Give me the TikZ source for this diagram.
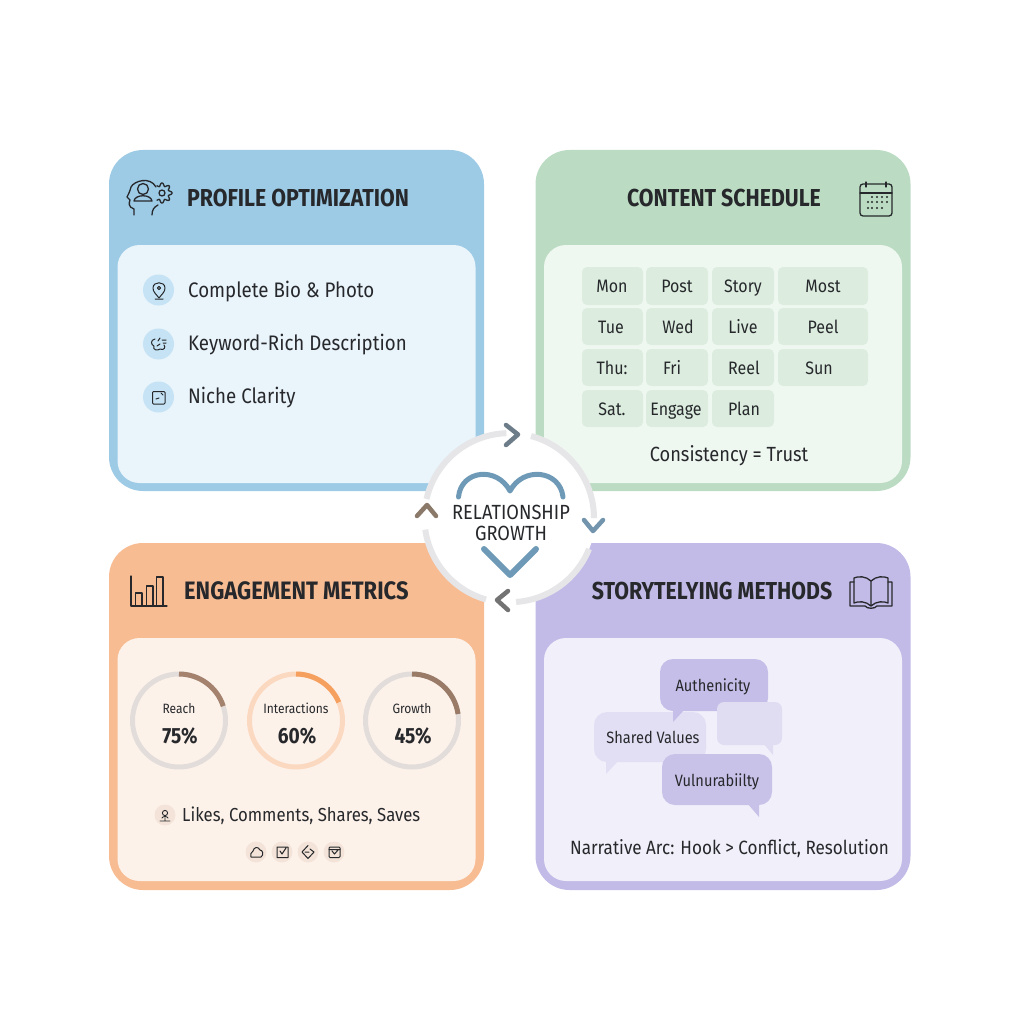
\documentclass[tikz,border=0pt]{standalone}
\usepackage{fontspec}
\setmainfont[FakeStretch=0.89,BoldFeatures={FakeStretch=0.87}]{Fira Sans}
\definecolor{bluepanel}{HTML}{9DCBE6} \definecolor{blueinner}{HTML}{E9F4FB} \definecolor{bluedot}{HTML}{C5E3F5}
\definecolor{greenpanel}{HTML}{BBDCC3} \definecolor{greeninner}{HTML}{EFF7F1} \definecolor{greencell}{HTML}{DCEDDF}
\definecolor{orangepanel}{HTML}{F8BC93} \definecolor{orangeinner}{HTML}{FDF2EA} \definecolor{orangedot}{HTML}{F3E3D8}
\definecolor{purplepanel}{HTML}{C2BBE7} \definecolor{purpleinner}{HTML}{F1EFFA} \definecolor{purplepale}{HTML}{E2DFF4}
\definecolor{inkdark}{HTML}{26282B} \definecolor{ringgray}{HTML}{E6E6E8} \definecolor{heartblue}{HTML}{6E9AB8}
\tikzset{
	panel/.style={rectangle,rounded corners=34pt,minimum width=375pt,minimum height=#1,inner sep=0},
	inner/.style={rectangle,rounded corners=22pt,minimum width=358pt,minimum height=#1,inner sep=0},
	title/.style={inner sep=0,anchor=mid,yshift=-6pt,text=inkdark,font=\fontsize{24.5}{28}\selectfont\bfseries},
	body/.style={inner sep=0,anchor=mid,yshift=-5pt,text=inkdark,font=\fontsize{21}{25}\selectfont},
	small/.style={inner sep=0,anchor=mid,yshift=-3pt,text=inkdark,font=\fontsize{13.5}{16}\selectfont},
	pct/.style={inner sep=0,anchor=mid,yshift=-5pt,text=inkdark,font=\fontsize{22}{26}\selectfont\bfseries},
	cell/.style={rectangle,rounded corners=5pt,fill=greencell,inner sep=0},
	celltext/.style={inner sep=0,anchor=mid,yshift=-4.5pt,text=inkdark,font=\fontsize{18}{22}\selectfont},
	bubble/.style={rectangle,rounded corners=13pt,inner sep=0},
	bubbletext/.style={inner sep=0,anchor=mid,yshift=-4pt,text=inkdark,font=\fontsize{16.4}{20}\selectfont},
	icon/.style={draw=inkdark,line width=1.3pt},
	dot/.style={circle,inner sep=0,minimum size=#1},
	chev/.style={line width=4.5pt}
}
\begin{document}
\begin{tikzpicture}[x=1pt,y=-1pt,line join=round,line cap=round]
	\useasboundingbox (0,0) rectangle (1024,1024);
	% panels
	\node[panel=341pt,fill=bluepanel] (blue) at (296.5,320.5) {};
	\node[panel=341pt,fill=greenpanel] (green) at (723,320.5) {};
	\node[panel=347pt,fill=orangepanel] (orange) at (296.5,716.5) {};
	\node[panel=347pt,fill=purplepanel] (purple) at (723,716.5) {};
	\node[inner=238pt,fill=blueinner] (blueIn) at (296.5,364) {};
	\node[inner=238pt,fill=greeninner] (greenIn) at (723,364) {};
	\node[inner=243pt,fill=orangeinner] (orangeIn) at (296.5,759.5) {};
	\node[inner=243pt,fill=purpleinner] (purpleIn) at (723,759.5) {};
	% titles
	\node[title,anchor=mid west] (tProfile) at (187,198) {PROFILE OPTIMIZATION};
	\node[title] (tContent) at (724,198) {CONTENT SCHEDULE};
	\node[title,anchor=mid west,font=\fontsize{25.2}{28}\selectfont\bfseries] (tEngage) at (184,591) {ENGAGEMENT METRICS};
	\node[title] (tStory) at (712,591) {STORYTELYING METHODS};
	% head and gear
	\draw[icon] (134,215) -- (134,209) .. controls (128,207) and (129,203) .. (130,200) -- (127,197) .. controls (129,193) and (130,191) .. (131,187) .. controls (134,181) and (150,176) .. (156,187);
	\draw[icon] (152,215) .. controls (152,210) and (154,207) .. (158,205);
	\draw[icon] (143,189) circle (5.5);
	\draw[icon] (134,201) .. controls (135,194) and (151,194) .. (152,201) -- (134,201);
	\draw[icon,samples=64,domain=-125:125,smooth] plot ({162+(8.5+1.6*cos(8*\x))*cos(\x)},{193+(8.5+1.6*cos(8*\x))*sin(\x)});
	\draw[icon] (162,193) circle (3);
	% blue list
	\node[dot=31pt,fill=bluedot] (d1) at (158.5,290) {};
	\node[dot=31pt,fill=bluedot] (d2) at (158.5,344) {};
	\node[dot=31pt,fill=bluedot] (d3) at (158.5,397) {};
	\node[body,anchor=mid west] (i1) at (188,290) {Complete Bio \& Photo};
	\node[body,anchor=mid west] (i2) at (188,343) {Keyword-Rich Description};
	\node[body,anchor=mid west] (i3) at (188,396) {Niche Clarity};
	\draw[icon,line width=1pt] (159,298) .. controls (156,294) and (153,292) .. (153,288) .. controls (153,281) and (165,281) .. (165,288) .. controls (165,292) and (162,294) .. (159,298);
	\draw[icon,line width=1pt] (159,288) circle (1.6) (155,299) -- (163,299);
	\draw[icon,line width=1pt] (155,339) .. controls (150,340) and (151,345) .. (154,346) .. controls (152,350) and (158,351) .. (160,349) .. controls (164,351) and (166,347) .. (164,345) (158,341) -- (160,338) (160,344) -- (157,346) (162,340) -- (166,340) (163,343) -- (166,343);
	\draw[icon,line width=1pt,rounded corners=1pt] (152.5,391.5) rectangle (165,404);
	\draw[icon,line width=1pt] (156,399) -- (159,398) (161,393) -- (163,395);
	% calendar
	\draw[icon,rounded corners=3pt] (860,184) rectangle (892,216);
	\draw[icon] (860,193) -- (892,193) (866,182) -- (866,187) (886,182) -- (886,187);
	\foreach \dx/\dy in {872/197,877/197,882/197,887/197,868/202,872/202,877/202,882/202,887/202,868/208,872/208,877/208,882/208}
		\fill[inkdark] (\dx,\dy) circle (1.2);
	% schedule grid
	\foreach \n/\cl/\ct/\cr/\cb/\tx/\txt in {
		a/582/267/643/305/612/Mon,b/646/267/708/305/677/Post,c/712/267/774/305/743/Story,d/778/267/868/305/823/Most,
		e/582/308/643/345/611/Tue,f/646/308/708/345/678/Wed,g/712/308/774/345/743/Live,h/778/308/868/345/823/Peel,
		i/582/349/643/386/612/Thu:,j/646/349/708/386/672/Fri,k/712/349/774/386/744/Reel,l/778/349/868/386/819/Sun,
		m/582/390/643/427/612/Sat.,n/646/390/708/427/676/Engage,o/712/390/774/427/744/Plan}{
		\node[cell,minimum width=\cr pt-\cl pt,minimum height=\cb pt-\ct pt] (cell\n) at ({(\cl+\cr)/2},{(\ct+\cb)/2}) {};
		\node[celltext] (text\n) at (\tx,{(\ct+\cb)/2-0.5}) {\txt};
	}
	\node[body,font=\fontsize{20.5}{24}\selectfont] (trust) at (729,454) {Consistency = Trust};
	% bar chart
	\draw[icon] (131,576) -- (131,606) -- (167,606);
	\draw[icon] (135.5,606) -- (135.5,593) -- (142,593) -- (142,606);
	\draw[icon] (146.5,606) -- (146.5,586) -- (153,586) -- (153,606);
	\draw[icon] (156.5,606) -- (156.5,577) -- (163,577) -- (163,606);
	% gauges
	\foreach \n/\gx/\base/\prog/\ang/\lab/\val in {
		r/179/E2DDDB/A5826D/18/Reach/75\%,
		n/296/FBD9C1/F5A05E/23/Interactions/60\%,
		g/412/E2DDDB/9A7B68/8/Growth/45\%}{
		\definecolor{gbase}{HTML}{\base} \definecolor{gprog}{HTML}{\prog}
		\coordinate (g\n) at (\gx,720.5);
		\draw[gbase,line width=5pt] (g\n) circle (46.5);
		\draw[gprog,line width=5pt,line cap=butt] (\gx,674) arc[start angle=-90,end angle=-\ang,radius=46.5];
		\node[small] (lab\n) at (\gx,708) {\lab};
		\node[pct] (val\n) at (\gx+1,736) {\val};
	}
	% likes row
	\node[dot=21pt,fill=orangedot] (dLikes) at (165,815) {};
	\node[body,anchor=mid west,font=\fontsize{18.8}{24}\selectfont] (likes) at (182,814) {Likes, Comments, Shares, Saves};
	\draw[icon,line width=.9pt] (165,813) circle (2.6) (160,821) -- (170,821) (162,818) .. controls (163,816) and (167,816) .. (168,818) (165,818) -- (165,821);
	\foreach \n/\ix in {1/256,2/282,3/308,4/334}
		\node[dot=21pt,fill=orangedot] (dS\n) at (\ix,852) {};
	\draw[icon,line width=1pt] (251,857) -- (261,857) .. controls (264,855) and (263,850) .. (260,850) .. controls (258,846) and (254,847) .. (253,851) .. controls (251,852) and (250,855) .. (251,857);
	\draw[icon,line width=1pt] (277,847) rectangle (288,857.5) (280,851) -- (282,854) -- (286,848);
	\draw[icon,line width=1pt] (308,845.5) -- (302,852) -- (308,858.5) -- (314,852) -- (310,849) (305,852) -- (309,852);
	\draw[icon,line width=1pt,rounded corners=1pt] (329,847) rectangle (340,857.5);
	\draw[icon,line width=1pt] (329,849.5) -- (340,849.5) (332,851) -- (334.5,854) -- (338,850);
	% book
	\draw[icon] (871,581) .. controls (866,576) and (858,576) .. (854,578) -- (854,603) .. controls (858,601) and (866,601) .. (871,606) .. controls (876,601) and (884,601) .. (888,603) -- (888,578) .. controls (884,576) and (876,576) .. (871,581) -- (871,606);
	\draw[icon] (854,582) -- (850,582) -- (850,606) -- (865,606) .. controls (867,609) and (875,609) .. (877,606) -- (892,606) -- (892,582) -- (888,582);
	% speech bubbles
	\fill[purplepale] (606,760) -- (606,774) -- (619,760) -- cycle;
	\node[bubble,fill=purplepale,minimum width=112pt,minimum height=50pt] (shared) at (650,737) {};
	\fill[purplepanel!95] (673,709) -- (673,722) -- (685,709) -- cycle;
	\node[bubble,fill=purplepanel!95,minimum width=108pt,minimum height=52pt] (authentic) at (714,685) {};
	\fill[purplepanel!50] (763,743) -- (773,755) -- (773,743) -- cycle;
	\node[bubble,rounded corners=7pt,fill=purplepanel!50,minimum width=65pt,minimum height=43pt] (blank) at (749.5,723.5) {};
	\fill[purplepanel!90] (747,803) -- (759,817) -- (759,803) -- cycle;
	\node[bubble,fill=purplepanel!90,minimum width=110pt,minimum height=51pt] (vulner) at (717,779.5) {};
	\node[bubbletext] (tAuth) at (713,685) {Authenicity};
	\node[bubbletext] (tShared) at (653,737) {Shared Values};
	\node[bubbletext] (tVuln) at (717,780) {Vulnurabiilty};
	\node[body,font=\fontsize{19.2}{24}\selectfont] (arc) at (729.5,847) {Narrative Arc: Hook > Conflict, Resolution};
	% centre
	\node[circle,fill=white,minimum size=170pt,inner sep=0] (hub) at (510,518) {};
	\draw[ringgray,line width=6pt,line cap=butt] (531,436) arc[start angle=-75,end angle=0,radius=85];
	\draw[ringgray,line width=6pt,line cap=butt] (589,549) arc[start angle=22,end angle=86,radius=85];
	\draw[ringgray,line width=6pt,line cap=butt] (486,599.5) arc[start angle=106,end angle=172,radius=85];
	\draw[ringgray,line width=6pt,line cap=butt] (426.5,499) arc[start angle=193,end angle=268,radius=85];
	\draw[heartblue,line width=5pt,line cap=round] (458.5,497) .. controls (461,470) and (497,466) .. (510,491) .. controls (523,466) and (560,470) .. (563,497);
	\draw[heartblue,line width=6pt] (484,549) -- (510,575) -- (536,549);
	\node[inner sep=0,anchor=center,text=inkdark,align=center,font=\fontsize{20.5}{21}\selectfont] (hubText) at (511,523) {RELATIONSHIP\\GROWTH};
	% chevrons
	\draw[chev,draw=black!20!heartblue!50!gray] (506,425) -- (518,434.5) -- (506,445);
	\draw[chev,draw=heartblue!80!gray] (584,520) -- (593,531) -- (603,520);
	\draw[chev,draw=black!55] (508,591) -- (497,600) -- (508,610);
	\draw[chev,draw=brown!40!black!65] (417,516) -- (427,505) -- (436,516);
\end{tikzpicture}
\end{document}
